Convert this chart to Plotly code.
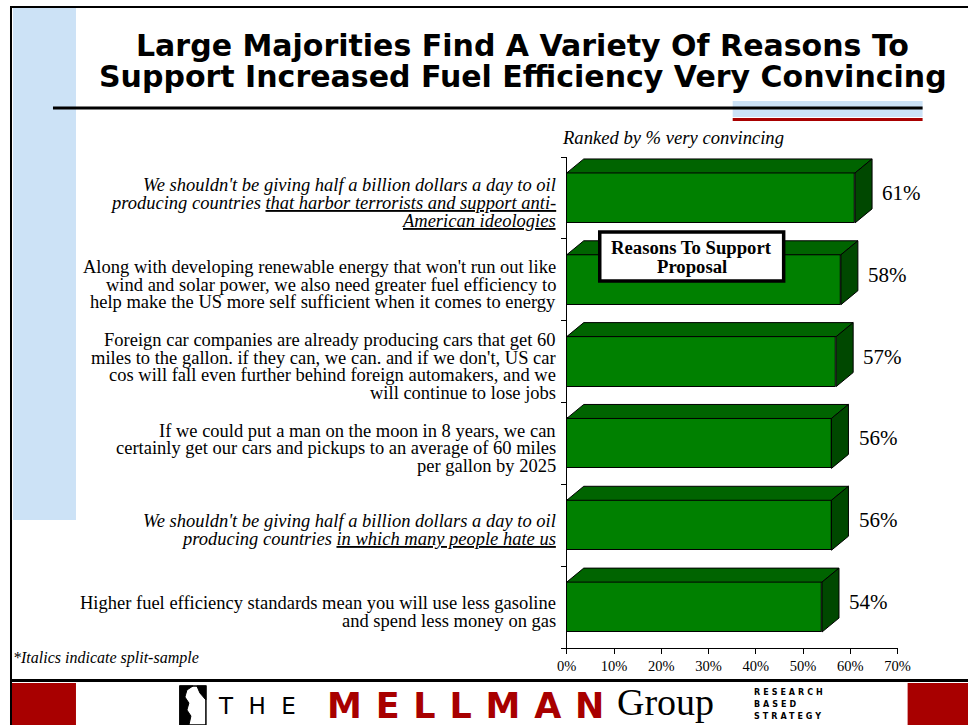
import plotly.graph_objects as go

# ---------------- data ----------------
category_lines = [
    ["We shouldn't be giving half a billion dollars a day to oil",
     "producing countries <u>that harbor terrorists and support anti-</u>",
     "<u>American ideologies</u>"],
    ["Along with developing renewable energy that won't run out like",
     "wind and solar power, we also need greater fuel efficiency to",
     "help make the US more self sufficient when it comes to energy"],
    ["Foreign car companies are already producing cars that get 60",
     "miles to the gallon. if they can, we can. and if we don't, US car",
     "cos will fall even further behind foreign automakers, and we",
     "will continue to lose jobs"],
    ["If we could put a man on the moon in 8 years, we can",
     "certainly get our cars and pickups to an average of 60 miles",
     "per gallon by 2025"],
    ["We shouldn't be giving half a billion dollars a day to oil",
     "producing countries <u>in which many people hate us</u>"],
    ["Higher fuel efficiency standards mean you will use less gasoline",
     "and spend less money on gas"],
]
split_sample = [True, False, False, False, True, False]
very_convincing = [61, 58, 57, 56, 56, 54]
x_tick_values = [0, 10, 20, 30, 40, 50, 60, 70]
x_tick_labels = ["0%", "10%", "20%", "30%", "40%", "50%", "60%", "70%"]

title_lines = ["Large Majorities Find A Variety Of Reasons To",
               "Support Increased Fuel Efficiency Very Convincing"]
subtitle = "Ranked by % very convincing"
legend_box = ["Reasons To Support", "Proposal"]
footnote = "*Italics indicate split-sample"

# ---------------- style ----------------
H = 725
HX_OFF, HX_SC = 9.0, 0.977          # horizontal page -> photo mapping
FIG_W = 982
SERIF = "Liberation Serif"
FRONT = "#008000"
TOP = "#006400"
SIDE = "#004800"
RED = "#A80000"
LBLUE = "#CCE2F6"

X0, X1 = 566, 897      # plot area (target px)
Y0, Y1 = 157, 648
XMAX = 70
px_per_unit = (X1 - X0) / XMAX
n = len(very_convincing)
px_per_band = (Y1 - Y0) / n
BAR_W = 0.61
DX = 17 / px_per_unit
DY = 14 / px_per_band


def px(x):
    return ((x - HX_OFF) / HX_SC) / FIG_W


def hs(d):
    return d / HX_SC


def py(y):
    return 1 - y / H


fig = go.Figure()

ys = list(range(n))
fig.add_trace(go.Bar(
    x=very_convincing, y=ys, orientation="h", width=BAR_W,
    marker=dict(color=FRONT, line=dict(color="black", width=1)),
    hoverinfo="skip", showlegend=False))

for i, v in enumerate(very_convincing):
    yt = i - BAR_W / 2
    yb = i + BAR_W / 2
    # top face
    fig.add_trace(go.Scatter(
        x=[0, v, v + DX, DX, 0], y=[yt, yt, yt - DY, yt - DY, yt],
        mode="lines", fill="toself", fillcolor=TOP,
        line=dict(color="black", width=1), hoverinfo="skip", showlegend=False))
    # side face
    fig.add_trace(go.Scatter(
        x=[v, v + DX, v + DX, v, v], y=[yt, yt - DY, yb - DY, yb, yt],
        mode="lines", fill="toself", fillcolor=SIDE,
        line=dict(color="black", width=1), hoverinfo="skip", showlegend=False))

annotations = []
shapes = []

# value labels
for i, v in enumerate(very_convincing):
    annotations.append(dict(
        x=v, y=i, xref="x", yref="y", text=f"{v}%", showarrow=False,
        xanchor="left", yanchor="middle", xshift=hs(24.5), yshift=5,
        font=dict(family=SERIF, size=21, color="black")))

# category labels
LINE_H = 17.6
for i, lines in enumerate(category_lines):
    k = len(lines)
    for j, line in enumerate(lines):
        txt = f"<i>{line}</i>" if split_sample[i] else line
        annotations.append(dict(
            x=px(556), y=i, xref="paper", yref="y", text=txt, showarrow=False,
            xanchor="right", yanchor="middle", borderpad=0,
            yshift=-((j - (k - 1) / 2) * LINE_H + 5),
            font=dict(family=SERIF, size=18.5, color="black")))

# title
for j, t in enumerate(title_lines):
    annotations.append(dict(
        x=px(522), y=py(45 + 31 * j), xref="paper", yref="paper",
        text=f"<b>{t}</b>", showarrow=False, xanchor="center", yanchor="middle",
        font=dict(family="DejaVu Sans", size=30, color="black")))

annotations.append(dict(
    x=px(559), y=py(137), xref="paper", yref="paper", text=f"<i>{subtitle}</i>",
    showarrow=False, xanchor="left", yanchor="middle",
    font=dict(family=SERIF, size=18.6, color="black")))

annotations.append(dict(
    x=px(10), y=py(658), xref="paper", yref="paper", text=f"<i>{footnote}</i>",
    showarrow=False, xanchor="left", yanchor="middle",
    font=dict(family=SERIF, size=16, color="black")))

# legend-like box
shapes.append(dict(type="rect", xref="paper", yref="paper",
                   x0=px(599), x1=px(783), y0=py(232), y1=py(281),
                   fillcolor="white", line=dict(color="black", width=3.5), layer="above"))
for j, t in enumerate(legend_box):
    annotations.append(dict(
        x=px(691), y=py(247 + 20 * j), xref="paper", yref="paper",
        text=f"<b>{t}</b>", showarrow=False, xanchor="center", yanchor="middle",
        font=dict(family=SERIF, size=18.7, color="black")))

# slide decoration
shapes += [
    dict(type="rect", xref="paper", yref="paper", x0=px(12), x1=px(75), y0=py(520), y1=py(8),
         fillcolor=LBLUE, line=dict(width=0), layer="below"),
    dict(type="line", xref="paper", yref="paper", x0=px(10), x1=px(968), y0=py(7), y1=py(7),
         line=dict(color="black", width=2)),
    dict(type="line", xref="paper", yref="paper", x0=px(10), x1=px(10), y0=py(6), y1=py(725),
         line=dict(color="black", width=2)),
    dict(type="rect", xref="paper", yref="paper", x0=px(732), x1=px(922), y0=py(117), y1=py(101),
         fillcolor=LBLUE, line=dict(width=0), layer="below"),
    dict(type="line", xref="paper", yref="paper", x0=px(52), x1=px(922), y0=py(108), y1=py(108),
         line=dict(color="black", width=3)),
    dict(type="line", xref="paper", yref="paper", x0=px(732), x1=px(922), y0=py(119.5), y1=py(119.5),
         line=dict(color=RED, width=3)),
    # footer
    dict(type="line", xref="paper", yref="paper", x0=px(10), x1=px(968), y0=py(680.5), y1=py(680.5),
         line=dict(color="black", width=3)),
    dict(type="rect", xref="paper", yref="paper", x0=px(11), x1=px(75), y0=py(725), y1=py(683),
         fillcolor=RED, line=dict(width=0)),
    dict(type="rect", xref="paper", yref="paper", x0=px(907), x1=px(970), y0=py(725), y1=py(683),
         fillcolor=RED, line=dict(width=0)),
    # logo icon
    dict(type="rect", xref="paper", yref="paper", x0=px(179), x1=px(205), y0=py(725), y1=py(686),
         fillcolor="white", line=dict(color="black", width=1.5)),
]
knight = [(179, 686), (192, 686), (186, 690), (184, 697), (188, 703), (186, 710),
          (190, 716), (188, 725), (179, 725)]
path = "M " + " L ".join(f"{px(a):.5f},{py(b):.5f}" for a, b in knight) + " Z"
shapes.append(dict(type="path", xref="paper", yref="paper", path=path,
                   fillcolor="black", line=dict(color="black", width=1)))
knight2 = [(196, 686), (205, 686), (205, 700), (199, 693)]
path2 = "M " + " L ".join(f"{px(a):.5f},{py(b):.5f}" for a, b in knight2) + " Z"
shapes.append(dict(type="path", xref="paper", yref="paper", path=path2,
                   fillcolor="black", line=dict(color="black", width=1)))

annotations += [
    dict(x=px(215), y=py(706), xref="paper", yref="paper", showarrow=False, xanchor="left",
         yanchor="middle", text=f'<span style="letter-spacing:{hs(15):.1f}px">THE</span>',
         font=dict(family="DejaVu Sans", size=23, color="black")),
    dict(x=px(324), y=py(706), xref="paper", yref="paper", showarrow=False, xanchor="left",
         yanchor="middle",
         text=f'<span style="letter-spacing:{hs(13.5):.1f}px"><b>MELLMAN</b></span>',
         font=dict(family="DejaVu Sans", size=35, color=RED)),
    dict(x=px(614), y=py(702), xref="paper", yref="paper", showarrow=False, xanchor="left",
         yanchor="middle", text="Group",
         font=dict(family=SERIF, size=38, color="black")),
]
for j, t in enumerate(["RESEARCH", "BASED", "STRATEGY"]):
    annotations.append(dict(
        x=px(751), y=py(692 + 12 * j), xref="paper", yref="paper", showarrow=False,
        xanchor="left", yanchor="middle",
        text=f'<span style="letter-spacing:3px"><b>{t}</b></span>',
        font=dict(family="DejaVu Sans", size=8, color="black")))

fig.update_layout(
    width=FIG_W, height=H, autosize=False, margin=dict(l=0, r=0, t=0, b=0),
    paper_bgcolor="white", plot_bgcolor="white",
    showlegend=False, bargap=0,
    xaxis=dict(domain=[px(X0), px(X1)], range=[0, XMAX], tickvals=x_tick_values,
               ticktext=x_tick_labels, showgrid=False, zeroline=False,
               showline=True, linecolor="black", linewidth=1,
               ticks="outside", ticklen=5, tickcolor="black",
               tickfont=dict(family=SERIF, size=14.5, color="black")),
    yaxis=dict(domain=[py(Y1), py(Y0)], range=[n - 0.5, -0.5],
               tickvals=[k - 0.5 for k in range(n + 1)], ticktext=[""] * (n + 1),
               showgrid=False, zeroline=False, showline=True, linecolor="black",
               linewidth=1, ticks="outside", ticklen=5, tickcolor="black"),
    annotations=annotations, shapes=shapes,
)

fig.write_html(
    "out.html",
    config={"displayModeBar": False, "responsive": False},
    post_script="var s=document.createElement('style');"
                "s.innerHTML='html,body{margin:0!important;padding:0!important;overflow:hidden!important;}';"
                "document.head.appendChild(s);window.scrollTo(0,0);",
)
